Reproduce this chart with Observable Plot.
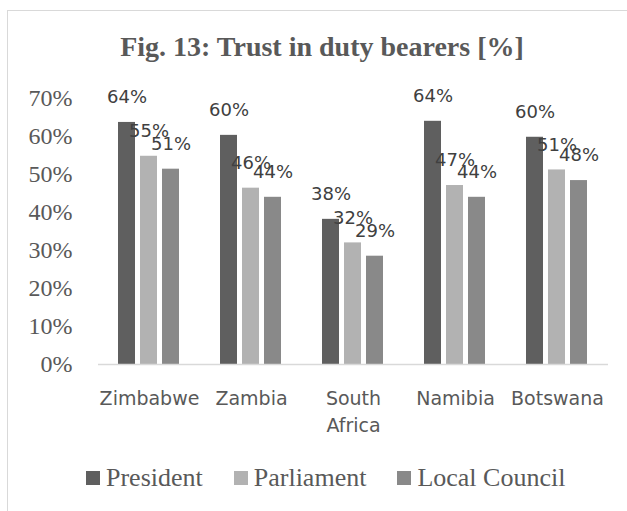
<!DOCTYPE html>
<html><head><meta charset="utf-8">
<script src="https://cdn.jsdelivr.net/npm/d3@7"></script>
<script src="https://cdn.jsdelivr.net/npm/@observablehq/plot@0.6"></script>
<style>
html,body{margin:0;padding:0;background:#fff;}
#wrap{position:relative;width:627px;height:511px;overflow:hidden;background:#fff;}
#frame{position:absolute;left:7px;top:10px;width:700px;height:600px;border:1px solid #d9d9d9;box-sizing:border-box;}
#title{position:absolute;left:7px;width:630px;top:33px;text-align:center;font-family:"Liberation Serif",serif;font-weight:bold;font-size:28px;line-height:28px;color:#595959;white-space:nowrap;}
#chart{position:absolute;left:0;top:78px;}
#legend{position:absolute;left:86px;top:465px;display:flex;align-items:center;font-family:"Liberation Serif",serif;font-size:26px;line-height:26px;color:#595959;white-space:nowrap;}
.item{display:flex;align-items:center;margin-right:31px;}
.sw{width:14px;height:14px;margin-right:6px;}
</style></head>
<body><div id="wrap"><div id="frame"></div><div id="title"></div><div id="chart"></div><div id="legend"></div></div>
<script>
const titleText = "Fig. 13: Trust in duty bearers [%]";
const countries = ["Zimbabwe", "Zambia", "South Africa", "Namibia", "Botswana"];
const seriesNames = ["President", "Parliament", "Local Council"];
const president = [63.7, 60.3, 38.2, 64.0, 59.8];
const parliament = [54.8, 46.4, 32.0, 47.1, 51.2];
const localCouncil = [51.4, 44.0, 28.5, 44.0, 48.4];
const yTicks = [0, 10, 20, 30, 40, 50, 60, 70];
const colors = ["#5f5f5f", "#b2b2b2", "#898989"];

const seriesValues = [president, parliament, localCouncil];
const rows = [];
countries.forEach((c, i) => {
  seriesNames.forEach((s, j) => rows.push({country: c, series: s, value: seriesValues[j][i]}));
});

document.getElementById("title").textContent = titleText;

const chart = Plot.plot({
  width: 627,
  height: 372,
  marginLeft: 97,
  marginRight: 19,
  marginTop: 20,
  marginBottom: 86,
  style: {color: "#595959", background: "transparent", overflow: "visible"},
  fx: {domain: countries, padding: 0, label: null},
  x: {domain: seriesNames, paddingInner: 0.21, paddingOuter: 0.85, axis: null},
  y: {domain: [0, 70], label: null},
  color: {domain: seriesNames, range: colors},
  marks: [
    Plot.axisY(yTicks, {tickSize: 0, tickPadding: 26, tickFormat: d => d + "%", fontFamily: "Liberation Serif", fontSize: 24, fill: "#595959", label: null}),
    Plot.axisFx({anchor: "bottom", tickSize: 0, tickPadding: 21, tickFormat: d => d.replace(" ", "\n"), fontFamily: "DejaVu Sans", fontSize: 19, fill: "#595959", lineHeight: 1.42, label: null}),
    Plot.barY(rows, {fx: "country", x: "series", y: "value", fill: "series"}),
    Plot.ruleY([0], {stroke: "#d9d9d9", strokeWidth: 1.5}),
    Plot.text(rows, {fx: "country", x: "series", y: "value", text: d => Math.round(d.value) + "%", dy: -25, fontFamily: "DejaVu Sans", fontSize: 18, fill: "#404040"})
  ]
});
document.getElementById("chart").appendChild(chart);

const legend = document.getElementById("legend");
seriesNames.forEach((s, j) => {
  const item = document.createElement("div");
  item.className = "item";
  const sw = document.createElement("div");
  sw.className = "sw";
  sw.style.background = colors[j];
  const lab = document.createElement("span");
  lab.textContent = s;
  item.appendChild(sw);
  item.appendChild(lab);
  legend.appendChild(item);
});
</script>
</body></html>
